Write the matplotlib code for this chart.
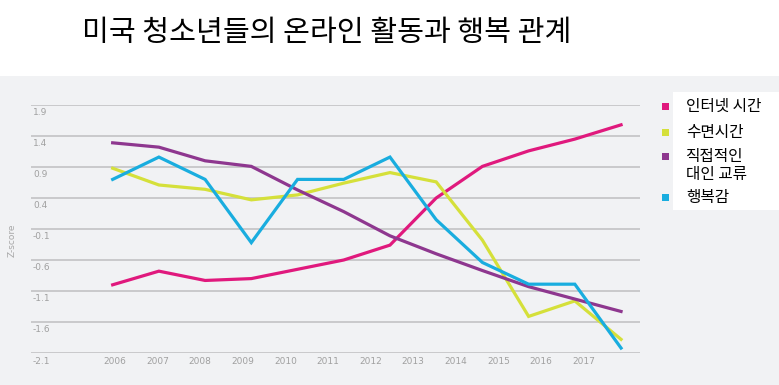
import matplotlib
matplotlib.use("Agg")
import matplotlib.pyplot as plt
from matplotlib.patches import Rectangle

plt.rcParams['font.family'] = ['Noto Sans CJK KR', 'DejaVu Sans']

W, H = 779, 385

TITLE = "미국 청소년들의 온라인 활동과 행복 관계"
YEARS = [2006, 2007, 2008, 2009, 2010, 2011, 2012, 2013, 2014, 2015, 2016, 2017]
Y_TICKS = [1.9, 1.4, 0.9, 0.4, -0.1, -0.6, -1.1, -1.6, -2.1]
Y_LABEL = "Z-score"

internet = [-1.00, -0.78, -0.93, -0.90, -0.75, -0.60, -0.36, 0.40, 0.91, 1.16, 1.35, 1.58]
sleep = [0.88, 0.61, 0.54, 0.37, 0.45, 0.64, 0.81, 0.66, -0.28, -1.51, -1.26, -1.88]
contact = [1.29, 1.22, 1.00, 0.91, 0.53, 0.18, -0.21, -0.50, -0.77, -1.03, -1.23, -1.43]
happiness = [0.70, 1.06, 0.70, -0.32, 0.70, 0.70, 1.06, 0.05, -0.64, -0.99, -0.99, -2.02]

series = [
    ("인터넷 시간", internet, "#e0197d"),
    ("수면시간", sleep, "#d5e03a"),
    ("직접적인\n대인 교류", contact, "#8e378f"),
    ("행복감", happiness, "#19addf"),
]

fig = plt.figure(figsize=(W / 100, H / 100), dpi=100, facecolor="white")

# grey panel under the title
fig.patches.append(Rectangle((0, 0), 1, 1 - 76 / H, transform=fig.transFigure,
                             facecolor="#f1f2f4", edgecolor="none", zorder=0))
# white legend box
fig.patches.append(Rectangle((673 / W, 1 - 210 / H), 106 / W, 118 / H,
                             transform=fig.transFigure, facecolor="white",
                             edgecolor="none", zorder=1))

fig.text(82 / W, 1 - 33 / H, TITLE, fontsize=21, color="black", va="center", ha="left")

ax = fig.add_axes([31 / W, 1 - 353 / H, (640 - 31) / W, (353 - 105) / H])
ax.set_zorder(3)
ax.set_facecolor("none")
ax.set_ylim(-2.1, 1.9)
ax.set_xlim(2004.233, 2017.41)

for v in Y_TICKS:
    ax.axhline(v, color="#c6c6c8", lw=1.3, zorder=1)
    ax.annotate(str(v), xy=(0, v), xycoords=("axes fraction", "data"),
                xytext=(2, -8), textcoords="offset pixels", fontsize=6.5,
                color="#a0a0a0", ha="left", va="center", family="DejaVu Sans")

for name, vals, col in series:
    ax.plot(YEARS, vals, color=col, lw=2.3, solid_joinstyle="miter", zorder=3)

# year labels sit on a slightly narrower spacing than the data in the original
label_step = 0.922
for yr in YEARS:
    ax.annotate(str(yr), xy=(2006.05 + (yr - 2006) * label_step, 0),
                xycoords=("data", "axes fraction"), xytext=(0, -9),
                textcoords="offset pixels", fontsize=6.5, color="#a0a0a0",
                ha="center", va="center", family="DejaVu Sans")

ax.set_xticks([])
ax.set_yticks([])
for s in ax.spines.values():
    s.set_visible(False)

fig.text(12 / W, 1 - 240 / H, Y_LABEL, rotation=90, fontsize=6.5, color="#a8a8a8",
         ha="center", va="center", family="DejaVu Sans")

# legend
rows = [106, 132, 156, 197]
for (name, vals, col), ry in zip(series, rows):
    fig.patches.append(Rectangle(((665 - 3.5) / W, 1 - (ry + 3.5) / H), 7 / W, 7 / H,
                                 transform=fig.transFigure, facecolor=col,
                                 edgecolor="none", zorder=2))
    fig.text(686 / W, 1 - (ry - 8) / H, name, fontsize=11.3, color="black",
             ha="left", va="top", linespacing=1.1, zorder=3)

fig.savefig("out.png", dpi=100, facecolor="white")
